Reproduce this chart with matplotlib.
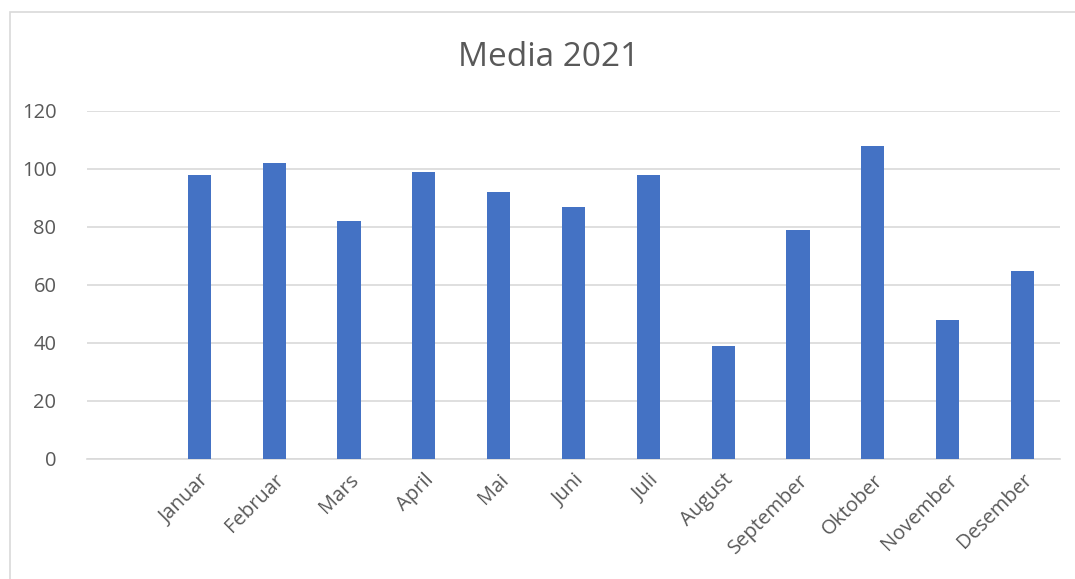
import matplotlib.pyplot as plt
from matplotlib.patches import Rectangle

plt.rcParams['font.family'] = ['Open Sans', 'DejaVu Sans']

months = ['', 'Januar', 'Februar', 'Mars', 'April', 'Mai', 'Juni', 'Juli',
          'August', 'September', 'Oktober', 'November', 'Desember']
values = [None, 98, 102, 82, 99, 92, 87, 98, 39, 79, 108, 48, 65]
yticks = [0, 20, 40, 60, 80, 100, 120]

fig = plt.figure(figsize=(10.75, 5.79), dpi=100)
ax = fig.add_axes([87/1075, 1 - 459/579, (1060 - 87)/1075, (459 - 111)/579])

# chart area border
fig.patches.append(Rectangle((10/1075, -0.1), 1.2, 1 - 12/579 + 0.1,
                             transform=fig.transFigure, fill=False,
                             edgecolor='#d9d9d9', linewidth=1.2))

x = list(range(len(months)))
heights = [v if v is not None else 0 for v in values]
ax.bar(x, heights, width=0.31, color='#4472C4', zorder=3)

ax.set_xlim(-0.5, len(months) - 0.5)
ax.set_ylim(0, 120)
ax.set_yticks(yticks)
ax.set_xticks(x)
ax.set_xticklabels(months, rotation=45, ha='right', rotation_mode='anchor')
ax.grid(axis='y', color='#d9d9d9', linewidth=1.2, zorder=0)
for s in ['top', 'right', 'left']:
    ax.spines[s].set_visible(False)
ax.spines['bottom'].set_color('#d9d9d9')
ax.spines['bottom'].set_linewidth(1.2)
ax.tick_params(axis='both', length=0, colors='#595959', labelsize=14.5)
ax.tick_params(axis='y', pad=22)
ax.tick_params(axis='x', pad=8)

fig.text(549/1075, 1 - 58/579, 'Media 2021', ha='center', va='center',
         fontsize=24, color='#595959')

fig.savefig('out.png', dpi=100)
